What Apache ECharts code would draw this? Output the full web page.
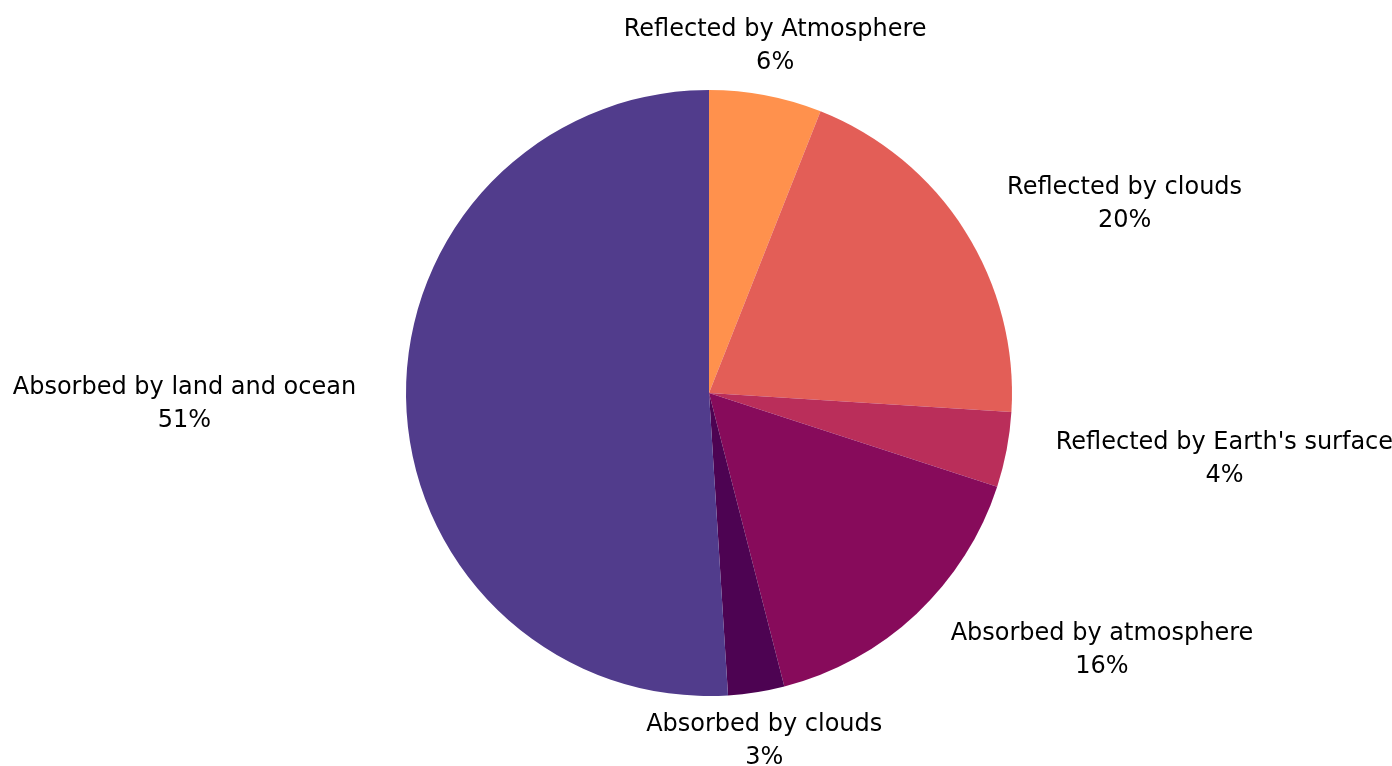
<!DOCTYPE html>
<html>
<head>
<meta charset="utf-8">
<script src="https://cdn.jsdelivr.net/npm/echarts@6/dist/echarts.min.js"></script>
<style>
  html, body { margin: 0; padding: 0; background: #fff; }
  #chart { width: 1392px; height: 766px; }
</style>
</head>
<body>
<div id="chart"></div>
<script>
const labels = [
  'Reflected by Atmosphere',
  'Reflected by clouds',
  "Reflected by Earth's surface",
  'Absorbed by atmosphere',
  'Absorbed by clouds',
  'Absorbed by land and ocean',
];
const values = [6, 20, 4, 16, 3, 51];
const colors = ['#FF914D', '#E35E57', '#BA2E5A', '#870B5B', '#4D0352', '#513C8C'];

const total = values.reduce((a, b) => a + b, 0);

// mid angle of a slice, clockwise from 12 o'clock
function midAngle(i) {
  let before = 0;
  for (let k = 0; k < i; k++) before += values[k];
  return ((before + values[i] / 2) / total) * Math.PI * 2;
}

const chart = echarts.init(document.getElementById('chart'));

chart.setOption({
  animation: false,
  series: [
    {
      type: 'pie',
      center: [709, 393],
      radius: 303,
      startAngle: 90,
      clockwise: true,
      avoidLabelOverlap: false,
      data: labels.map((name, i) => ({
        name,
        value: values[i],
        itemStyle: { color: colors[i] },
      })),
      label: {
        show: true,
        position: 'outside',
        distanceToLabelLine: 0,
        formatter: '{t|{b}}\n{t|{c}%}',
        rich: {
          t: {
            align: 'center',
            fontFamily: 'DejaVu Sans',
            fontSize: 24,
            lineHeight: 33,
            color: '#000',
          },
        },
      },
      labelLine: { show: false, length: 50, length2: 0 },
      labelLayout: (p) => {
        const a = midAngle(p.dataIndex);
        return Math.abs(Math.sin(a)) < 0.35 ? { align: 'center' } : {};
      },
    },
  ],
});
</script>
</body>
</html>
